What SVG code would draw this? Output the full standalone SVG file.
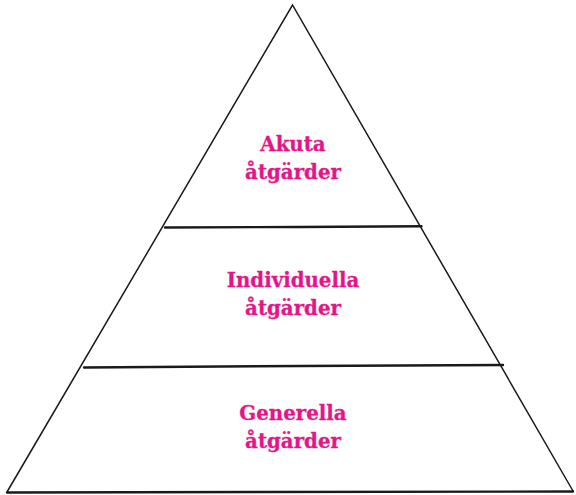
<svg xmlns="http://www.w3.org/2000/svg" width="576" height="495" viewBox="0 0 576 495">
<style>
.edge{fill:none;stroke:#1a1a1a;stroke-width:1.5;stroke-linecap:round;stroke-linejoin:miter}
.div{fill:none;stroke:#1a1a1a;stroke-width:2.4;stroke-linecap:round}
.lbl{font-family:"DejaVu Serif","Liberation Serif",serif;font-weight:bold;font-size:19.8px;fill:#e6148a;stroke:#e6148a;stroke-width:0.3;text-anchor:middle}
</style>
<rect width="576" height="495" fill="#ffffff"/>
<g id="connectors">
<path class="edge" d="M7,492 L292.5,5 L573,491"/>
<path class="div" d="M7,492.5 L573,491.5"/>
<path class="div" d="M165,227.5 L300,227 L421.5,226.3"/>
<path class="div" d="M84,367.5 L300,366 L503,365"/>
</g>
<g id="node-akuta">
<text class="lbl" x="293" y="151">Akuta</text>
<text class="lbl" x="293" y="179">åtgärder</text>
</g>
<g id="node-individuella">
<text class="lbl" x="293" y="287">Individuella</text>
<text class="lbl" x="293" y="315">åtgärder</text>
</g>
<g id="node-generella">
<text class="lbl" x="293" y="420">Generella</text>
<text class="lbl" x="293" y="448">åtgärder</text>
</g>
</svg>
